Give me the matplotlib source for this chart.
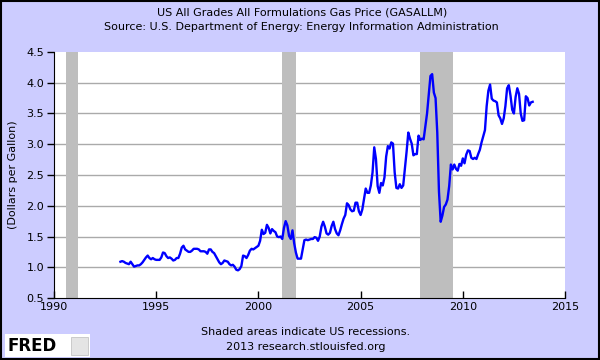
import numpy as np
import pandas as pd
import matplotlib
matplotlib.use("Agg")
import matplotlib.pyplot as plt
from matplotlib.patches import Rectangle

# monthly gas price, Apr 1993 - Jun 2013
start_month = "1993-04-01"
prices = [
    1.09, 1.10, 1.09, 1.07, 1.06, 1.05, 1.09, 1.05, 1.01,                   # 1993
    1.02, 1.03, 1.03, 1.05, 1.08, 1.12, 1.16, 1.19, 1.15, 1.13, 1.15, 1.13,  # 1994
    1.12, 1.12, 1.12, 1.16, 1.24, 1.23, 1.18, 1.15, 1.16, 1.14, 1.11, 1.12,  # 1995
    1.15, 1.15, 1.22, 1.32, 1.35, 1.29, 1.27, 1.25, 1.25, 1.27, 1.30, 1.30,  # 1996
    1.30, 1.29, 1.26, 1.26, 1.26, 1.25, 1.22, 1.29, 1.29, 1.25, 1.23, 1.18,  # 1997
    1.13, 1.08, 1.05, 1.07, 1.11, 1.10, 1.09, 1.05, 1.03, 1.04, 1.01, 0.96,  # 1998
    0.95, 0.97, 1.02, 1.19, 1.18, 1.15, 1.20, 1.27, 1.30, 1.29, 1.31, 1.33,  # 1999
    1.35, 1.43, 1.61, 1.54, 1.56, 1.69, 1.64, 1.55, 1.62, 1.59, 1.57, 1.50,  # 2000
    1.49, 1.50, 1.46, 1.64, 1.75, 1.68, 1.51, 1.46, 1.60, 1.39, 1.24, 1.14,  # 2001
    1.14, 1.14, 1.29, 1.44, 1.45, 1.44, 1.45, 1.46, 1.46, 1.49, 1.48, 1.43,  # 2002
    1.50, 1.66, 1.74, 1.66, 1.55, 1.53, 1.56, 1.67, 1.74, 1.62, 1.55, 1.52,  # 2003
    1.60, 1.70, 1.79, 1.85, 2.04, 2.01, 1.94, 1.91, 1.92, 2.05, 2.05, 1.91,  # 2004
    1.85, 1.94, 2.11, 2.28, 2.21, 2.21, 2.33, 2.54, 2.95, 2.76, 2.32, 2.21,  # 2005
    2.37, 2.33, 2.46, 2.80, 2.97, 2.93, 3.03, 3.01, 2.54, 2.29, 2.28, 2.35,  # 2006
    2.29, 2.33, 2.61, 2.88, 3.19, 3.09, 3.01, 2.82, 2.84, 2.84, 3.14, 3.07,  # 2007
    3.09, 3.08, 3.29, 3.50, 3.81, 4.11, 4.14, 3.84, 3.75, 3.19, 2.23, 1.74,  # 2008
    1.84, 1.98, 2.02, 2.10, 2.32, 2.67, 2.59, 2.67, 2.60, 2.57, 2.68, 2.65,  # 2009
    2.77, 2.69, 2.83, 2.90, 2.89, 2.78, 2.76, 2.78, 2.76, 2.84, 2.91, 3.03,  # 2010
    3.13, 3.23, 3.62, 3.87, 3.97, 3.74, 3.71, 3.70, 3.68, 3.47, 3.42, 3.33,  # 2011
    3.42, 3.62, 3.91, 3.96, 3.79, 3.56, 3.50, 3.77, 3.91, 3.82, 3.50, 3.38,  # 2012
    3.39, 3.78, 3.75, 3.63, 3.68, 3.69,                                      # 2013
]

# NBER recessions (start, end) as decimal years
recession_starts = [1990.58, 2001.17, 2007.92]
recession_ends = [1991.17, 2001.83, 2009.50]

x_ticks = [1990, 1995, 2000, 2005, 2010, 2015]
y_ticks = [0.5, 1.0, 1.5, 2.0, 2.5, 3.0, 3.5, 4.0, 4.5]

bg = "#CCCCFF"

dates = pd.date_range(start_month, periods=len(prices), freq="MS")
years = dates.year + (dates.month - 1) / 12.0

fig = plt.figure(figsize=(6, 3.6), dpi=100, facecolor=bg)
ax = fig.add_axes([0.09, 0.1722, 0.8517, 0.6834])
ax.set_facecolor("white")

for s, e in zip(recession_starts, recession_ends):
    ax.axvspan(s, e, color="#BEBEBE", lw=0, zorder=1)

for yv in y_ticks[1:-1]:
    ax.axhline(yv, color="#AAAAAA", lw=1, zorder=0.5)

ax.plot(years, prices, color="#0000FF", lw=1.7, zorder=3)

ax.set_xlim(1990, 2015)
ax.set_ylim(0.5, 4.5)
ax.set_xticks(x_ticks)
ax.set_yticks(y_ticks)
ax.set_yticklabels(["%.1f" % v for v in y_ticks])
ax.tick_params(axis="x", direction="in", length=5, width=1, labelsize=8, pad=3)
ax.tick_params(axis="y", direction="out", length=5, width=1, labelsize=8, pad=2)
for lab in ax.get_xticklabels():
    lab.set_verticalalignment("top")

ax.spines["top"].set_visible(False)
ax.spines["right"].set_visible(False)
ax.spines["left"].set_color("black")
ax.spines["bottom"].set_color("black")

ax.set_ylabel("(Dollars per Gallon)", fontsize=8, labelpad=6)

fig.text(0.503, 0.965, "US All Grades All Formulations Gas Price (GASALLM)",
         ha="center", va="center", fontsize=8)
fig.text(0.503, 0.925, "Source: U.S. Department of Energy: Energy Information Administration",
         ha="center", va="center", fontsize=8)
fig.text(0.51, 0.077, "Shaded areas indicate US recessions.",
         ha="center", va="center", fontsize=8)
fig.text(0.51, 0.035, "2013 research.stlouisfed.org",
         ha="center", va="center", fontsize=8)

# FRED logo box
fig.patches.append(Rectangle((0.008, 0.008), 0.142, 0.063, transform=fig.transFigure,
                             facecolor="white", edgecolor="none"))
fig.text(0.013, 0.038, "FRED", ha="left", va="center", fontsize=12,
         fontweight="bold", color="black")
fig.patches.append(Rectangle((0.118, 0.015), 0.028, 0.048, transform=fig.transFigure,
                             facecolor="#E4E4E4", edgecolor="#BBBBBB", lw=0.5))

# figure border
fig.patches.append(Rectangle((0.0015, 0.0025), 0.997, 0.995, transform=fig.transFigure,
                             facecolor="none", edgecolor="black", lw=1.5))

fig.savefig("out.png", dpi=100, facecolor=bg)
